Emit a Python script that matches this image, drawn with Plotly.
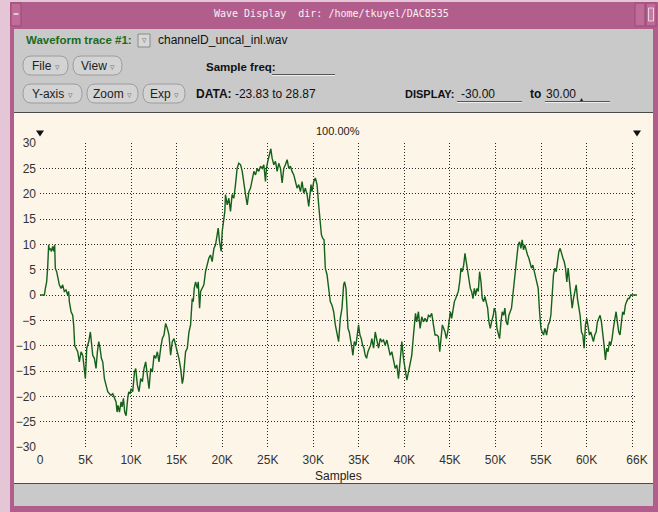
import plotly.graph_objects as go

# ---- waveform (sample index, level) ----
SAMPLES = [
    0, 480, 590, 730, 840, 950, 1030, 1140, 1250, 1390, 1500, 1610, 1680, 1830, 1980,
    2120, 2310, 2490, 2670, 2860, 3040, 3150, 3220, 3410, 3590, 3700, 3810, 3960, 4140,
    4320, 4510, 4690, 4870, 4980, 5130, 5350, 5530, 5640, 5790, 5970, 6150, 6300, 6450,
    6590, 6740, 6890, 7070, 7250, 7440, 7620, 7800, 7990, 8170, 8350, 8460, 8570, 8720,
    8900, 9010, 9160, 9300, 9450, 9630, 9740, 9890, 10000, 10180, 10370,
    10510, 10690, 10870, 11060, 11240, 11420, 11600, 11790, 11970, 12150, 12330, 12520,
    12700, 12880, 13060, 13250, 13430, 13610, 13790, 13980, 14160, 14340, 14520, 14710,
    14890, 15070, 15250, 15440, 15620, 15730, 15870, 15980, 16170, 16350, 16530, 16710,
    16820, 16930, 17080, 17260, 17370, 17520, 17630, 17810, 17990, 18170, 18360, 18540,
    18720, 18900, 19090, 19270, 19450, 19560, 19710, 19890, 20000, 20180, 20290, 20360,
    20550, 20730, 20910, 21090, 21280, 21460, 21640, 21820,
    22020, 22200, 22380, 22560, 22750, 22930, 23110, 23290, 23480, 23660, 23840, 24020,
    24210, 24390, 24570, 24750, 24860, 25010, 25190, 25340, 25480, 25670, 25850, 26030,
    26210, 26400, 26580, 26760, 26940, 27130, 27310, 27490, 27670, 27860, 28040, 28220,
    28400, 28590, 28770, 28950, 29130, 29320, 29500, 29610, 29750, 29860, 30050, 30230,
    30410, 30590, 30780, 30890, 31030, 31180, 31320, 31510, 31690, 31870, 32050, 32240,
    32420, 32600, 32780, 32970, 33150, 33330, 33440, 33590, 33700, 33810, 33950, 34100,
    34240, 34350, 34500, 34680, 34830, 34970, 35120, 35270, 35410, 35560, 35700, 35850,
    36000, 36140, 36290, 36430, 36620, 36800, 36980, 37160, 37350, 37530, 37710, 37890,
    38080, 38260, 38440, 38620, 38810, 38990, 39170, 39350, 39460, 39610, 39720, 39900,
    40080, 40270, 40450, 40630, 40810, 41000, 41110, 41220, 41360, 41540, 41730, 41910,
    42090, 42270, 42460, 42640, 42820, 43000, 43190,
    43370, 43550, 43730, 43880, 44030, 44170, 44320, 44460, 44610, 44760, 44900, 45050,
    45190, 45340, 45490, 45630, 45780, 45920, 46070, 46220, 46360, 46510, 46650, 46800,
    46950, 47090, 47240, 47380, 47530, 47680, 47820, 47970, 48110, 48260, 48410, 48550,
    48700, 48840, 48990, 49140, 49280, 49430, 49570, 49760, 49870, 50010, 50160, 50300,
    50450, 50600, 50740, 50890, 51030, 51180, 51330, 51470, 51620, 51760, 51910, 52060,
    52200, 52350, 52490, 52640, 52790, 52930, 53080, 53220, 53370, 53520, 53660, 53810,
    53950, 54100, 54250,
    54510, 54690, 54840, 54990, 55130, 55280, 55420, 55610, 55790, 55940, 56080, 56230,
    56370, 56520, 56670, 56810, 56960, 57100, 57250, 57400, 57540, 57690, 57830, 57980,
    58130, 58270, 58420, 58560, 58710, 58860, 59000, 59150, 59290, 59440, 59590, 59730,
    59880, 60020, 60170, 60320, 60460, 60610, 60750, 60900, 61050, 61190, 61340, 61480,
    61630, 61780, 61920, 62070, 62210, 62360, 62510, 62650, 62800, 62940, 63090, 63240,
    63380, 63530, 63670, 63820, 63960, 64110, 64260, 64400, 64550, 64690, 64840, 65535,
]

LEVELS = [
    0.0, 0.0, 1.3, 2.6, 5.3, 9.9, 8.9, 9.2, 8.6, 9.6, 8.6, 9.9, 5.3, 4.6, 3.3,
    2.0, 1.3, 2.0, 0.7, 1.0, 0.0, 0.7, -1.3, -3.3, -4.0, -6.0, -10.0, -10.5, -11.2,
    -13.2, -11.2, -11.9, -14.5, -16.5, -10.5, -9.2, -7.3, -9.2, -11.9, -12.5, -14.5, -11.2, -9.2,
    -10.5, -12.5, -13.2, -16.5, -17.8, -19.1, -19.5, -19.8, -19.5, -20.4, -21.1, -23.1, -21.8, -23.1,
    -21.1, -22.1, -20.4, -23.1, -23.83, -20.4, -19.1, -19.5, -18.5, -19.1, -15.2,
    -14.5, -17.8, -19.1, -16.5, -17.1, -14.5, -13.2, -15.8, -18.5, -14.5, -15.2, -11.9,
    -12.5, -11.2, -13.2, -10.5, -8.6, -7.9, -5.6, -6.6, -7.9, -11.9, -9.2, -8.6,
    -9.9, -11.2, -12.5, -14.5, -17.5, -16.5, -13.8, -11.2, -10.5, -7.3, -5.9, -0.7,
    -1.3, 1.3, 2.6, 1.3, 2.6, -2.6, 0.7, 1.3, 2.0, 4.6, 5.9, 7.3,
    7.9, 6.6, 9.2, 9.9, 11.9, 13.2, 10.5, 8.6, 12.5, 14.5, 16.5, 19.8,
    17.8, 19.1, 16.5, 19.8, 19.1, 21.8, 25.0, 26.0,
    25.7, 24.4, 21.8, 19.8, 17.8, 20.4, 21.1, 23.1, 24.4, 23.7, 25.0, 24.4,
    25.4, 25.0, 25.7, 22.4, 25.0, 26.4, 27.7, 28.87, 27.0, 25.7, 26.4, 24.4,
    26.0, 25.0, 22.1, 25.0, 25.7, 26.7, 25.0, 25.4, 24.4, 23.7, 22.4, 21.1,
    21.8, 20.4, 22.4, 20.1, 21.1, 19.8, 17.5, 19.8, 21.8, 20.4, 22.4, 23.1,
    21.8, 17.8, 14.5, 11.9, 11.2, 10.9, 5.3, 4.0, 1.3, -1.3, -2.0, -3.3,
    -5.9, -7.9, -9.2, -4.6, -2.6, 2.0, 2.6, 1.3, -2.6, -6.6, -7.3, -8.6,
    -10.5, -11.9, -9.2, -9.9, -7.3, -5.9, -7.9, -8.6, -9.9, -10.5, -11.9, -12.5,
    -11.2, -10.5, -9.9, -8.6, -10.5, -7.3, -9.2, -10.5, -8.6, -9.2, -8.9, -9.9,
    -8.9, -10.5, -11.9, -11.2, -13.2, -14.5, -13.8, -16.5, -14.5, -11.9, -9.2, -12.5,
    -14.5, -16.8, -15.2, -13.8, -11.9, -7.9, -5.3, -3.6, -5.3, -3.3, -6.6, -4.3,
    -5.3, -4.6, -5.3, -4.0, -4.3, -3.6, -5.9,
    -7.9, -7.9, -8.2, -11.2, -7.9, -5.9, -6.6, -7.3, -8.6, -7.3, -5.3, -3.3,
    -4.6, -2.6, -1.3, -0.7, 0.0, 0.7, 2.6, 5.3, 4.6, 5.9, 8.2, 6.6,
    5.3, 3.3, 1.3, 0.7, -0.7, 1.3, 0.0, 1.3, 0.7, 4.6, 2.6, -0.7,
    -1.3, -0.3, -1.3, -2.6, -5.3, -6.6, -5.3, -4.0, -2.6, -3.3, -6.6, -7.9,
    -8.6, -5.3, -3.3, -4.0, -2.6, -5.3, -5.9, -4.0, -3.3, -2.6, 0.0, 2.6,
    5.3, 7.9, 9.9, 10.5, 9.2, 10.9, 8.9, 9.9, 8.6, 7.9, 7.3, 5.9,
    5.3, 5.9, 4.6,
    2.6, 1.3, -3.3, -6.6, -7.3, -7.9, -6.6, -7.9, -5.9, -5.3, -4.0, 0.0,
    4.0, 5.3, 4.6, 6.6, 8.6, 9.2, 7.9, 7.3, 6.6, 5.3, 2.6, 5.3,
    2.6, 0.0, -2.6, -0.7, 0.7, 2.0, -0.7, -2.6, -4.0, -7.3, -7.9, -10.5,
    -5.9, -4.6, -6.6, -7.9, -7.3, -8.6, -9.2, -7.9, -7.3, -5.3, -4.6, -4.0,
    -5.3, -7.3, -9.9, -12.8, -10.5, -11.2, -9.2, -9.9, -8.6, -6.6, -5.3, -3.3,
    -5.3, -7.3, -7.9, -5.3, -3.3, -3.9, -2.0, -1.3, -0.7, -0.7, 0.0, 0.0,
]

X_TICKS = [0, 5000, 10000, 15000, 20000, 25000, 30000, 35000, 40000, 45000,
           50000, 55000, 60000, 65000, 65536]
X_LABELS = ["0", "5K", "10K", "15K", "20K", "25K", "30K", "35K", "40K", "45K",
            "50K", "55K", "60K", "", "66K"]
Y_TICKS = [-30, -25, -20, -15, -10, -5, 0, 5, 10, 15, 20, 25, 30]

DATA_MIN, DATA_MAX = -23.83, 28.87
DISPLAY_MIN, DISPLAY_MAX = -30.00, 30.00

# ---- look ----
TRACE = "#14611a"
CREAM = "#fdf5e7"
PANEL = "#c9c9c9"
FRAME = "#b25e8c"
FRAME_LIGHT = "#e4c6d6"
GREEN_TXT = "#1c6b1c"
GUI_FONT = "Liberation Sans Narrow, Arial Narrow, Liberation Sans, Arial, sans-serif"
AX_FONT = "Liberation Sans, Arial, sans-serif"

W_FIG, H_FIG = 658, 512
PL, PT, PW, PH = 40, 143, 597, 304   # plot box in pixels


def fx(px):
    return (px - PL) / PW


def fy(py):
    return (PT + PH - py) / PH


shapes = []
annotations = []


def rect(x0, y0, x1, y1, fill, line=None, lw=1):
    shapes.append(dict(type="rect", xref="paper", yref="paper",
                       x0=fx(x0), x1=fx(x1), y0=fy(y1), y1=fy(y0),
                       fillcolor=fill,
                       line=dict(color=line or fill, width=lw if line else 0),
                       layer="below"))


def hline(x0, x1, y, color, w=1):
    shapes.append(dict(type="line", xref="paper", yref="paper",
                       x0=fx(x0), x1=fx(x1), y0=fy(y), y1=fy(y),
                       line=dict(color=color, width=w), layer="below"))


def pill(x0, y0, x1, y1, r=8):
    yc = (y0 + y1) / 2
    p = (f"M{fx(x0 + r)},{fy(y0)} L{fx(x1 - r)},{fy(y0)} "
         f"Q{fx(x1)},{fy(y0)} {fx(x1)},{fy(yc)} "
         f"Q{fx(x1)},{fy(y1)} {fx(x1 - r)},{fy(y1)} "
         f"L{fx(x0 + r)},{fy(y1)} "
         f"Q{fx(x0)},{fy(y1)} {fx(x0)},{fy(yc)} "
         f"Q{fx(x0)},{fy(y0)} {fx(x0 + r)},{fy(y0)} Z")
    shapes.append(dict(type="path", xref="paper", yref="paper", path=p,
                       fillcolor="#d3d3d3", line=dict(color="#9c9c9c", width=1),
                       layer="below"))


def tri(cx, cy, s=4):
    p = (f"M{fx(cx - s)},{fy(cy - s * 0.75)} L{fx(cx + s)},{fy(cy - s * 0.75)} "
         f"L{fx(cx)},{fy(cy + s * 0.75)} Z")
    shapes.append(dict(type="path", xref="paper", yref="paper", path=p,
                       fillcolor="#111111", line=dict(color="#111111", width=0)))


def text(px, py, s, size=12, color="#111111", anchor="left", family=GUI_FONT):
    annotations.append(dict(xref="paper", yref="paper", x=fx(px), y=fy(py),
                            text=s, showarrow=False, xanchor=anchor, yanchor="middle",
                            font=dict(size=size, color=color, family=family),
                            borderpad=0))


# window frame
rect(0, 0, W_FIG, H_FIG, FRAME)
rect(0, 0, W_FIG, 2, FRAME_LIGHT)
rect(0, 0, 10, H_FIG, FRAME_LIGHT)
rect(14, 29, 653, 112, PANEL)
rect(14, 113, 653, 483, CREAM)
rect(14, 484, 653, 506, PANEL)
hline(14, 653, 112.5, "#4a4a4a")
hline(14, 653, 483.5, "#4a4a4a")

# title bar widgets
rect(11, 3, 21, 26, "#bf6d98", line="#9a4874")
hline(13.5, 18.5, 14, "#f2e4ec", 1.5)
rect(635, 3, 645, 26, "#bf6d98", line="#9a4874")
rect(646, 3, 656, 26, "#bf6d98", line="#9a4874")
rect(648.5, 8, 653.5, 21, "#c77aa2", line="#e9d3df")
text(331, 14, "Wave Display\u00a0\u00a0dir: /home/tkuyel/DAC8535", size=10,
     color="#f7f0f4", anchor="center", family="DejaVu Sans Mono, monospace")

# control panel
text(25, 40, "<b>Waveform trace #1:</b>", size=11.5, color=GREEN_TXT)
rect(138, 34, 150, 47, "#d8d8d8", line="#8a8a8a")
text(144, 40.5, "▿", size=9, color="#777777", anchor="center")
text(157, 40, "channelD_uncal_inl.wav", size=12)

for x0, x1, y0, y1, lab in [(23, 68, 56, 75, "File"), (73, 122, 56, 75, "View"),
                            (23, 82, 84, 103, "Y-axis"), (87, 138, 84, 103, "Zoom"),
                            (143, 185, 84, 103, "Exp")]:
    pill(x0, y0, x1, y1)
    text((x0 + x1) / 2, (y0 + y1) / 2,
         f"{lab} <span style='font-size:9px;color:#777'>▿</span>",
         size=12, color="#222222", anchor="center")

text(205, 67, "<b>Sample freq:</b>", size=11.5)
hline(272, 335, 74.5, "#555555")
hline(272, 335, 75.5, "#eeeeee")

text(195, 94, f"<b>DATA:</b>\u00a0{DATA_MIN:.2f} to {DATA_MAX:.2f}", size=12)
text(404, 94, "<b>DISPLAY:</b>", size=11)
text(460, 94, f"{DISPLAY_MIN:.2f}", size=12)
hline(457, 522, 101.5, "#555555")
hline(457, 522, 102.5, "#eeeeee")
text(529, 94, "<b>to</b>", size=12)
text(545, 94, f"{DISPLAY_MAX:.2f}", size=12)
hline(545, 610, 101.5, "#555555")
hline(545, 610, 102.5, "#eeeeee")
text(581, 99.5, "▲", size=5, color="#111111", anchor="center")

# plot header / footer
text(338, 131, "100.00%", size=11, color="#222222", anchor="center", family=AX_FONT)
tri(40, 133.5)
tri(637, 133.5)
text(338, 476, "Samples", size=12, color="#222222", anchor="center", family=AX_FONT)

fig = go.Figure(go.Scatter(x=SAMPLES, y=LEVELS, mode="lines",
                           line=dict(color=TRACE, width=1.4), hoverinfo="skip"))

grid = dict(showgrid=True, gridcolor="#2a2a2a", gridwidth=1, griddash="1px,2px",
            zeroline=False, showline=False, ticks="", fixedrange=True,
            tickfont=dict(size=12, color="#333333", family=AX_FONT))

fig.update_layout(
    width=W_FIG, height=H_FIG,
    margin=dict(l=PL, r=W_FIG - PL - PW, t=PT, b=H_FIG - PT - PH, autoexpand=False),
    paper_bgcolor=FRAME, plot_bgcolor=CREAM,
    showlegend=False,
    xaxis=dict(range=[0, 65536], tickvals=X_TICKS, ticktext=X_LABELS,
               ticklabelstandoff=4, **grid),
    yaxis=dict(range=[-30, 30], tickvals=Y_TICKS, ticklabelstandoff=3, **grid),
    shapes=shapes,
    annotations=annotations,
)

fig.write_html("out.html", config={"displayModeBar": False, "staticPlot": True})
